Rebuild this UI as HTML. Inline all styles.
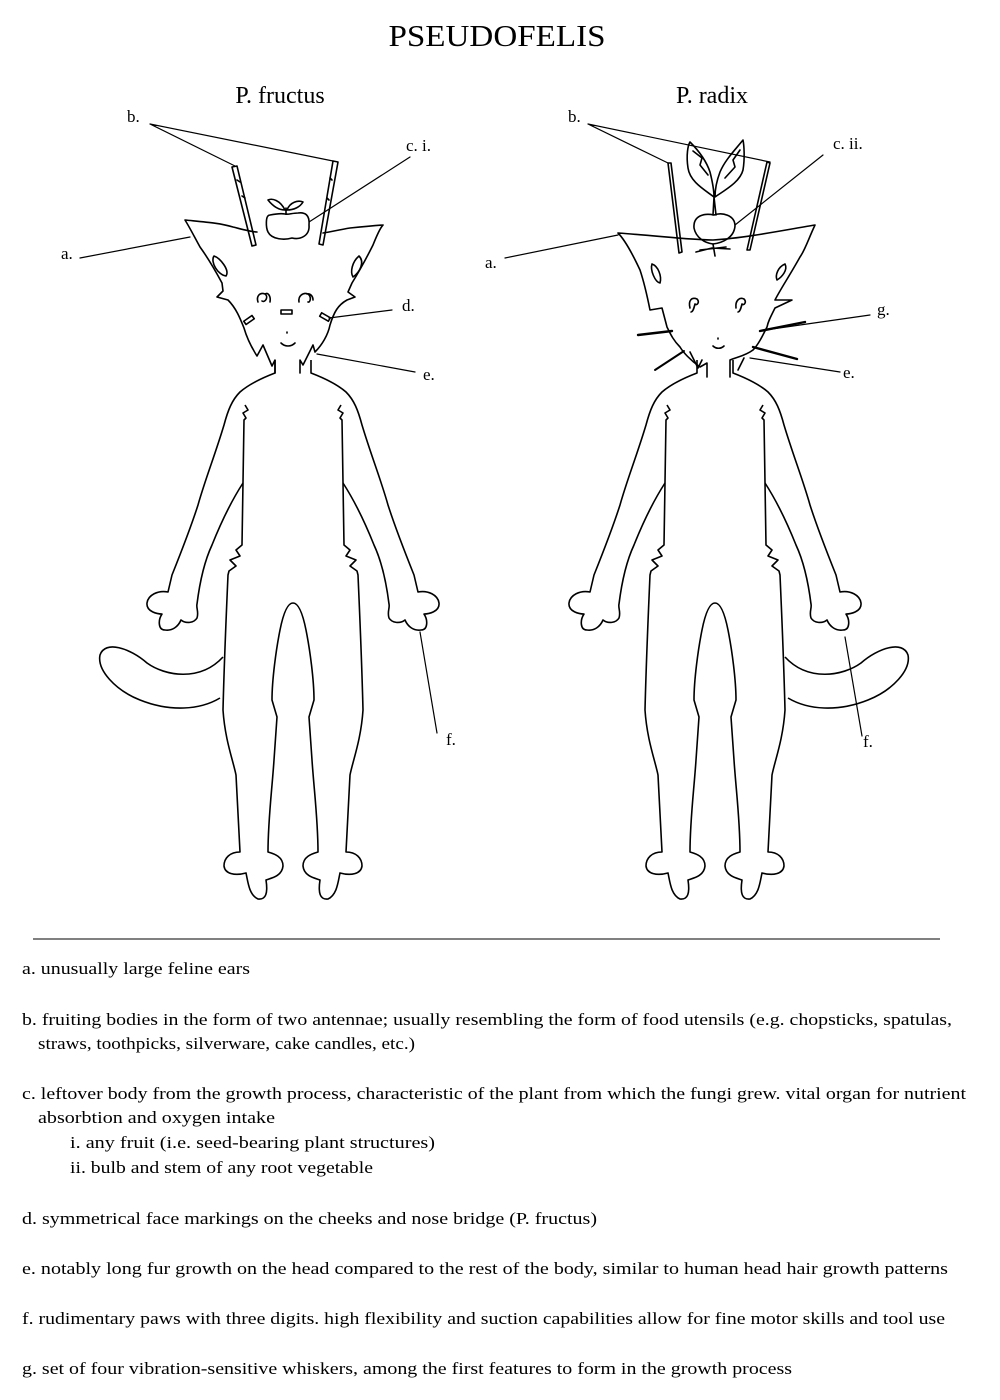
<!DOCTYPE html>
<html><head><meta charset="utf-8"><style>
html,body{margin:0;padding:0;background:#fff;}
svg{display:block;}
text{font-family:"Liberation Serif",serif;fill:#000;}
</style></head><body>
<svg width="1000" height="1400" viewBox="0 0 1000 1400" xmlns="http://www.w3.org/2000/svg">
<defs>
<g id="bodyhalf" fill="none" stroke="#000" stroke-width="1.6" stroke-linejoin="round">
  <path d="M275,360 L275,373 C262,378 248,385 240,392 C232,400 228,410 224,425 C215,455 205,480 198,505 C190,530 180,555 172,575 L168,592 C158,590 148,595 147,603 C146,612 158,614 162,614 C158,620 158,630 165,630 C172,631 178,627 181,620 C186,624 194,623 197,618 C199,612 196,608 197,604 C200,580 205,560 212,545 C222,520 232,500 243,483"/>
  <path d="M245,405 L248,410 L243,413 L246,418 L244,420 L242,545 L236,550 L240,556 L230,560 L236,566 L229,571 L228,575 C226,620 224,670 223,710 C225,740 233,760 236,775 L240,852 C230,852 224,858 224,866 C225,874 235,876 246,873 C248,882 249,895 258,899 C266,900 268,893 266,880 C272,878 282,876 283,866 C283,857 275,854 268,852 C268,820 272,790 274,760 L277,717 L272,700 C272,680 276,650 280,630 C283,615 287,603 293,603"/>
</g>
<path id="tail" fill="none" stroke="#000" stroke-width="1.6" d="M223,657 C200,682 165,676 147,663 C130,648 105,640 100,655 C97,670 115,690 140,700 C170,712 200,710 220,698"/>
<g id="body">
  <use href="#bodyhalf"/>
  <g transform="translate(586,0) scale(-1,1)"><use href="#bodyhalf"/></g>
</g>
</defs>

<text x="497" y="46" font-size="31" text-anchor="middle" textLength="217" lengthAdjust="spacingAndGlyphs">PSEUDOFELIS</text>
<text x="280" y="103" font-size="24" text-anchor="middle">P. fructus</text>
<text x="712" y="103" font-size="24" text-anchor="middle">P. radix</text>

<!-- LEFT FIGURE -->
<use href="#body"/>
<use href="#tail"/>
<g fill="none" stroke="#000" stroke-width="1.6" stroke-linejoin="round" stroke-linecap="round">
  <path d="M275,373 L275,360 L272,366 L263,345 L257,356 C250,345 246,335 244,328 C240,318 236,308 228,300 L217,297 L223,291 L222,283 C215,270 208,258 200,247 C195,238 190,228 185,220 C205,222 220,223 233,227 C245,230 252,232 257,232"/>
  <path d="M300,373 L300,360 L303,365 L313,345 L315,352 C322,345 328,335 330,325 C334,312 338,305 347,300 L355,297 L348,292 L352,283 C360,270 368,255 373,245 C377,235 380,228 383,225 C370,226 360,227 350,228 C338,230 330,232 323,233"/>
  <path d="M214,256 C210,262 218,275 226,276 C230,270 220,258 214,256 Z"/>
  <path d="M359,256 C352,262 350,272 353,277 C360,272 365,262 359,256 Z"/>
  <path d="M258,302 C256,296 260,292 265,294 C269,297 265,303 262,301 M270,302 C271,296 268,292 265,294"/>
  <path d="M299,302 C298,296 303,292 308,294 C312,297 310,303 308,302 M313,300 C313,296 310,293 307,294"/>
  <rect x="281" y="310" width="11" height="4"/>
  <rect x="244" y="318" width="10" height="4" transform="rotate(-35 249 320)"/>
  <rect x="320" y="315" width="10" height="4" transform="rotate(30 325 317)"/>
  <path d="M281,343 C285,347 291,347 295,343"/>
  <path d="M287,332 L287,333"/>
  <path d="M232,167 L237,166 L256,245 L252,246 Z"/>
  <path d="M237,180 L240,182 M242,196 L245,198"/>
  <path d="M333,161 L338,162 L323,245 L319,244 Z"/>
  <path d="M330,178 L332,180 M327,198 L329,200"/>
  <path d="M270,215 C265,215 266,228 268,232 C272,240 285,240 292,238 C300,240 310,236 309,225 C310,215 305,212 298,213 C292,213 288,215 285,214 C280,213 275,214 270,215 Z"/>
  <path d="M286,214 L286,208 M285,210 C280,200 272,198 268,200 C272,205 278,210 285,210 M287,210 C290,202 298,200 303,202 C300,207 294,210 287,210"/>
  <path d="M150,124 L235,166 M150,124 L333,161" stroke-width="1.2"/>
  <path d="M410,157 L309,222" stroke-width="1.2"/>
  <path d="M80,258 L190,237" stroke-width="1.2"/>
  <path d="M392,310 L329,318" stroke-width="1.2"/>
  <path d="M415,372 L317,354" stroke-width="1.2"/>
  <path d="M437,733 L420,632" stroke-width="1.2"/>
</g>
<g font-size="17">
  <text x="127" y="122">b.</text>
  <text x="406" y="151">c. i.</text>
  <text x="61" y="259">a.</text>
  <text x="402" y="311">d.</text>
  <text x="423" y="380">e.</text>
  <text x="446" y="745">f.</text>
</g>

<!-- RIGHT FIGURE -->
<use href="#body" transform="translate(422,0)"/>
<g transform="translate(1008,0) scale(-1,1)"><use href="#tail"/></g>
<g fill="none" stroke="#000" stroke-width="1.6" stroke-linejoin="round" stroke-linecap="round">
  <path d="M707,377 L707,363 L700,367 C690,360 683,352 680,347 C673,340 670,333 667,327 L662,308 L650,310 C648,300 645,285 640,270 C633,255 625,240 618,233 C660,236 690,240 713,240 C745,238 785,230 815,225 C808,240 805,250 800,257 C790,275 780,290 775,300 L792,300 L775,308 C770,318 768,322 767,327 C762,337 758,345 753,350 C745,356 737,357 730,360 L730,377"/>
  <path d="M652,264 C650,270 655,282 660,283 C662,276 658,266 652,264 Z"/>
  <path d="M785,264 C778,267 775,275 777,280 C782,277 788,270 785,264 Z"/>
  <path d="M690,308 C688,300 692,297 697,299 C700,302 697,306 695,304 C694,308 693,312 691,312"/>
  <path d="M736,308 C735,300 740,297 744,299 C747,302 744,306 742,304 C741,308 740,312 738,312"/>
  <path d="M713,346 C716,349 721,349 724,346"/>
  <path d="M718,338 L718,339"/>
  <path d="M638,335 L672,331" stroke-width="2.4"/>
  <path d="M655,370 L684,351" stroke-width="2"/>
  <path d="M805,322 L760,331" stroke-width="2.4"/>
  <path d="M797,359 L753,347" stroke-width="2.4"/>
  <path d="M690,352 L698,368 L702,360 M744,358 L738,370 L742,362"/>
  <path d="M668,163 L671,163 L682,252 L679,253 Z"/>
  <path d="M767,162 L770,163 L750,250 L747,250 Z"/>
  <path d="M714,215 C705,213 693,215 694,228 C696,238 705,243 713,244 C722,243 734,238 735,226 C735,215 722,212 714,215 Z"/>
  <path d="M713,215 L714,197 L716,215"/>
  <path d="M714,197 C705,190 690,182 688,168 C686,155 688,145 690,142 C698,150 706,160 710,172 C712,180 714,190 714,197 Z"/>
  <path d="M715,197 C725,190 740,182 743,170 C745,158 744,145 743,140 C735,150 725,160 720,172 C717,180 715,190 715,197 Z"/>
  <path d="M693,151 L702,158 L700,165 L708,175 M740,150 L733,160 L735,167 L725,178"/>
  <path d="M713,244 L715,256 M700,250 L726,247 M696,252 L712,248 M712,248 L730,249"/>
  <path d="M588,124 L668,163 M588,124 L770,162" stroke-width="1.2"/>
  <path d="M823,155 L735,225" stroke-width="1.2"/>
  <path d="M505,258 L618,235" stroke-width="1.2"/>
  <path d="M870,315 L765,330" stroke-width="1.2"/>
  <path d="M840,372 L750,358" stroke-width="1.2"/>
  <path d="M862,736 L845,637" stroke-width="1.2"/>
</g>
<g font-size="17">
  <text x="568" y="122">b.</text>
  <text x="833" y="149">c. ii.</text>
  <text x="485" y="268">a.</text>
  <text x="877" y="315">g.</text>
  <text x="843" y="378">e.</text>
  <text x="863" y="747">f.</text>
</g>

<line x1="33" y1="939" x2="940" y2="939" stroke="#000" stroke-width="1"/>

<g font-size="17">
  <text x="22" y="974" textLength="228" lengthAdjust="spacingAndGlyphs">a. unusually large feline ears</text>
  <text x="22" y="1025" textLength="930" lengthAdjust="spacingAndGlyphs">b. fruiting bodies in the form of two antennae; usually resembling the form of food utensils (e.g. chopsticks, spatulas,</text>
  <text x="38" y="1049" textLength="377" lengthAdjust="spacingAndGlyphs">straws, toothpicks, silverware, cake candles, etc.)</text>
  <text x="22" y="1099" textLength="944" lengthAdjust="spacingAndGlyphs">c. leftover body from the growth process, characteristic of the plant from which the fungi grew. vital organ for nutrient</text>
  <text x="38" y="1123" textLength="237" lengthAdjust="spacingAndGlyphs">absorbtion and oxygen intake</text>
  <text x="70" y="1148" textLength="365" lengthAdjust="spacingAndGlyphs">i. any fruit (i.e. seed-bearing plant structures)</text>
  <text x="70" y="1173" textLength="303" lengthAdjust="spacingAndGlyphs">ii. bulb and stem of any root vegetable</text>
  <text x="22" y="1224" textLength="575" lengthAdjust="spacingAndGlyphs">d. symmetrical face markings on the cheeks and nose bridge (P. fructus)</text>
  <text x="22" y="1274" textLength="926" lengthAdjust="spacingAndGlyphs">e. notably long fur growth on the head compared to the rest of the body, similar to human head hair growth patterns</text>
  <text x="22" y="1324" textLength="923" lengthAdjust="spacingAndGlyphs">f. rudimentary paws with three digits. high flexibility and suction capabilities allow for fine motor skills and tool use</text>
  <text x="22" y="1374" textLength="770" lengthAdjust="spacingAndGlyphs">g. set of four vibration-sensitive whiskers, among the first features to form in the growth process</text>
</g>
</svg>
</body></html>
